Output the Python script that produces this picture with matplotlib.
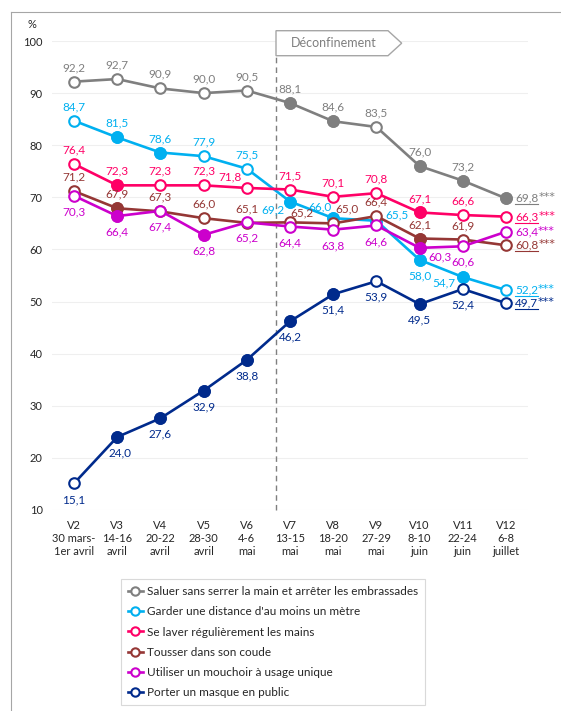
import matplotlib
matplotlib.use("Agg")
import numpy as np
import matplotlib.pyplot as plt
from matplotlib.lines import Line2D
from matplotlib.patches import Polygon

plt.rcParams['font.family'] = ['Lato', 'DejaVu Sans']

# --- data -------------------------------------------------------------
waves = ["V2\n30 mars-\n1er avril", "V3\n14-16\navril", "V4\n20-22\navril",
         "V5\n28-30\navril", "V6\n4-6\nmai", "V7\n13-15\nmai", "V8\n18-20\nmai",
         "V9\n27-29\nmai", "V10\n8-10\njuin", "V11\n22-24\njuin", "V12\n6-8\njuillet"]

saluer = [92.2, 92.7, 90.9, 90.0, 90.5, 88.1, 84.6, 83.5, 76.0, 73.2, 69.8]
distance = [84.7, 81.5, 78.6, 77.9, 75.5, 69.2, 66.0, 65.5, 58.0, 54.7, 52.2]
laver = [76.4, 72.3, 72.3, 72.3, 71.8, 71.5, 70.1, 70.8, 67.1, 66.6, 66.3]
tousser = [71.2, 67.9, 67.3, 66.0, 65.1, 65.2, 65.0, 66.4, 62.1, 61.9, 60.8]
mouchoir = [70.3, 66.4, 67.4, 62.8, 65.2, 64.4, 63.8, 64.6, 60.3, 60.6, 63.4]
masque = [15.1, 24.0, 27.6, 32.9, 38.8, 46.2, 51.4, 53.9, 49.5, 52.4, 49.7]

names = ["Saluer sans serrer la main et arrêter les embrassades",
         "Garder une distance d'au moins un mètre",
         "Se laver régulièrement les mains",
         "Tousser dans son coude",
         "Utiliser un mouchoir à usage unique",
         "Porter un masque en public"]

# 1 = significant change (filled marker), 0 = open marker
filled = {
    0: [0, 0, 0, 0, 0, 1, 1, 0, 1, 1, 1],
    1: [0, 1, 1, 0, 0, 1, 1, 1, 1, 1, 0],
    2: [0, 1, 0, 0, 0, 0, 0, 0, 1, 0, 0],
    3: [0, 1, 0, 0, 0, 0, 0, 0, 1, 0, 0],
    4: [0, 1, 0, 1, 0, 0, 0, 0, 1, 0, 0],
    5: [0, 1, 1, 1, 1, 1, 1, 0, 1, 0, 0],
}
underline_last = [True, True, True, True, False, True]

colors = ['#7f7f7f', '#00b0f0', '#ff0066', '#953735', '#cc00cc', '#002a8c']
series = [saluer, distance, laver, tousser, mouchoir, masque]

# label offsets in pixels (dx, dy)
A = (0, 14)
B = (0, -16)
offsets = [
    [A] * 10,
    [A, A, A, A, A, (-17, -8), (-13, 11), (21, 6), B, (-19, -6)],
    [A, A, A, A, (-17, 11), A, A, A, A, A],
    [A, A, A, A, A, (12, 9), (14, 14), A, A, A],
    [B, B, B, B, B, B, B, B, (20, -9), B],
    [B, (3, -16), B, B, B, B, B, B, B, B],
]

W, H = 561, 711
fig = plt.figure(figsize=(W / 100, H / 100), dpi=100)
fig.patch.set_facecolor('white')
ax = fig.add_axes([52.4 / W, 1 - 510 / H, 475.2 / W, 469 / H])

x = np.arange(len(waves))
for i, (vals, c) in enumerate(zip(series, colors)):
    ax.plot(x, vals, color=c, lw=1.9, zorder=2 + i, label=names[i],
            marker='o', ms=7.6, mfc='white', mec=c, mew=1.5)
    for j in range(len(x)):
        if filled[i][j]:
            ax.plot(x[j], vals[j], marker='o', ms=7.6, mfc=c, mec=c, mew=1.5,
                    zorder=2 + i, ls='none')
    for j in range(len(x) - 1):
        dx, dy = offsets[i][j]
        ax.annotate(f"{vals[j]:.1f}".replace('.', ','), (x[j], vals[j]),
                    xytext=(dx, dy), textcoords='offset pixels',
                    ha='center', va='center', fontsize=8.5, color=c, zorder=20)

ax.set_xlim(-0.5, 10.5)
ax.set_ylim(10, 100)
ax.set_yticks(range(10, 101, 10))
ax.set_xticks(x)
ax.set_xticklabels(waves, fontsize=8, color='#262626', linespacing=1.25)
ax.tick_params(axis='y', labelsize=8, colors='#262626', length=0, pad=7)
ax.tick_params(axis='x', length=0, pad=7)
ax.grid(axis='y', color='#efefef', lw=0.8)
ax.set_axisbelow(True)
for s in ax.spines.values():
    s.set_visible(False)

# deconfinement marker
ax.plot([4.68, 4.68], [10, 97.2], color='#7f7f7f', lw=1, ls=(0, (4, 3)),
        clip_on=False, zorder=1)
pts = [(276, 30.7), (388, 30.7), (401.7, 43.2), (388, 55.7), (276, 55.7)]
arrow = Polygon([(px / W, 1 - py / H) for px, py in pts], closed=True,
                transform=fig.transFigure, facecolor='white', edgecolor='#a6a6a6', lw=1)
fig.add_artist(arrow)
fig.text(334 / W, 1 - 43.2 / H, "Déconfinement", ha='center', va='center',
         fontsize=9, color='#7f7f7f')
fig.text(32 / W, 1 - 25 / H, "%", ha='center', va='center', fontsize=8, color='#262626')

# outer frame
fig.add_artist(Line2D([10.5 / W, 1], [1 - 11.5 / H] * 2, transform=fig.transFigure,
                      color='#a6a6a6', lw=0.8))
fig.add_artist(Line2D([10.5 / W] * 2, [0, 1 - 11.5 / H], transform=fig.transFigure,
                      color='#a6a6a6', lw=0.8))

# last-wave labels with stars
fig.canvas.draw()
renderer = fig.canvas.get_renderer()
for i, (vals, c) in enumerate(zip(series, colors)):
    t = ax.annotate(f"{vals[-1]:.1f}".replace('.', ','), (x[-1], vals[-1]),
                    xytext=(9, 0), textcoords='offset pixels',
                    ha='left', va='center', fontsize=8.5, color=c, zorder=20)
    bb = t.get_window_extent(renderer)
    if underline_last[i]:
        fig.add_artist(Line2D([bb.x0 / W, bb.x1 / W], [(bb.y0 - 0.5) / H] * 2,
                              transform=fig.transFigure, color=c, lw=0.8))
    fig.text(bb.x1 / W, (bb.y0 + bb.y1) / 2 / H + 1 / H, "***", ha='left', va='center',
             fontsize=8, color=c, family='DejaVu Sans')

# legend
handles = [Line2D([], [], color=c, lw=1.9, marker='o', ms=6, mfc='white', mec=c, mew=1.5)
           for c in colors]
leg = fig.legend(handles, names, loc='upper left',
                 bbox_to_anchor=(120.7 / W, 1 - 579 / H), fontsize=8.5,
                 frameon=True, fancybox=False, edgecolor='#d0d0d0',
                 handlelength=1.3, handletextpad=0.3, labelspacing=0.78,
                 borderpad=0.6, borderaxespad=0, labelcolor='#262626')
leg.get_frame().set_linewidth(0.8)
leg.get_frame().set_facecolor('white')
leg.set_zorder(30)

fig.savefig("out.png", dpi=100, facecolor='white')
